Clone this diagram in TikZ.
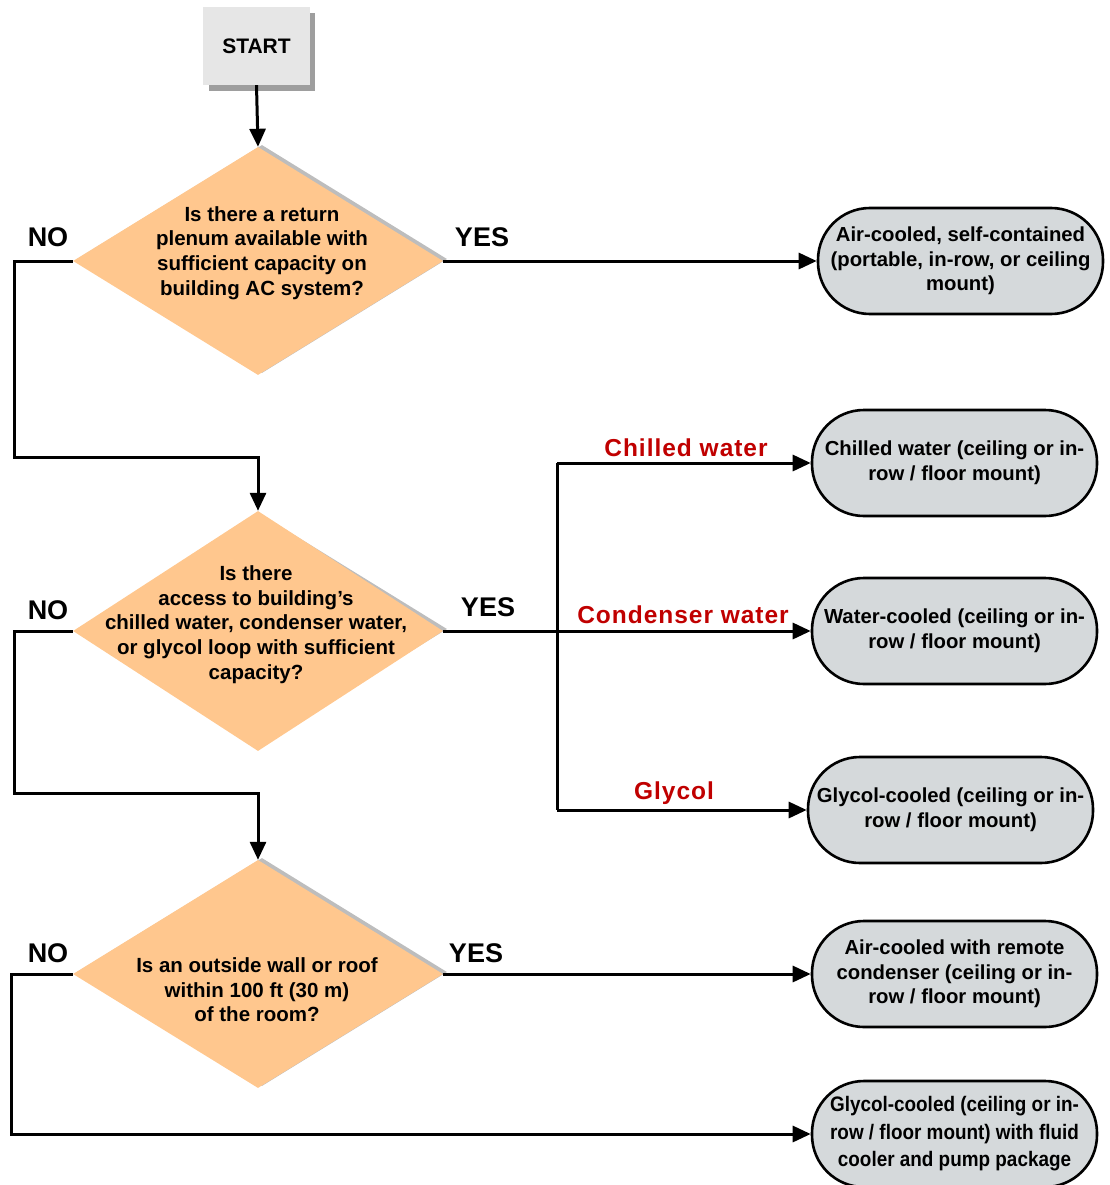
\documentclass[tikz,border=0pt]{standalone}
\usepackage{fontspec}
\setmainfont{Liberation Sans}
\newfontfamily\narrowfont{Liberation Sans}[FakeStretch=0.9]
\newfontfamily\spacedfont{Liberation Sans}[LetterSpace=4]
\usetikzlibrary{arrows.meta,shapes.geometric}
\definecolor{dfill}{HTML}{FFC78E}
\definecolor{dshadow}{HTML}{BDBDBD}
\definecolor{tfill}{HTML}{D5D9DB}
\definecolor{sfill}{HTML}{E6E6E6}
\definecolor{sshadow}{HTML}{9E9E9E}
\definecolor{redlab}{HTML}{C00000}
\tikzset{
  x=1pt,y=-1pt,
  conn/.style={line width=3pt,-{Triangle[length=18pt,width=16pt]}},
  plain/.style={line width=3pt},
  dec/.style={diamond,fill=dfill,minimum width=370pt,minimum height=228pt,inner sep=0pt},
  decsh/.style={diamond,fill=dshadow,minimum width=370pt,minimum height=228pt,inner sep=0pt},
  dtext/.style={font=\fontsize{20.5}{24.6}\selectfont\bfseries,align=center},
  term/.style={draw,line width=2.6pt,fill=tfill,rounded corners=52pt,minimum width=285pt,minimum height=106pt,inner sep=0pt,
    font=\fontsize{20.3}{24.6}\selectfont\bfseries,align=center},
  yn/.style={font=\fontsize{27}{30}\selectfont\bfseries},
  redl/.style={font=\fontsize{24.5}{26}\selectfont\bfseries\spacedfont,text=redlab},
}
\begin{document}
\begin{tikzpicture}
\useasboundingbox (0,0) rectangle (1110,1185);
% START
\fill[sshadow] (209,13) rectangle (315,91);
\node[fill=sfill,minimum width=107pt,minimum height=78pt,inner sep=0pt,font=\fontsize{21}{24}\selectfont\bfseries] (start) at (256.5,46) {START};
% Diamonds
\node[decsh] at (262,259) {};
\node[dec] (d1) at (258,261) {};
\node[dtext] at (262,253) {Is there a return\\plenum available with\\sufficient capacity on\\building AC system?};

\node[decsh] at (262,629) {};
\node[dec,minimum height=240pt] (d2) at (258,631) {};
\node[dtext] at (256,624.5) {Is there\\access to building's\\chilled water, condenser water,\\or glycol loop with sufficient\\capacity?};

\node[decsh] at (262,972) {};
\node[dec] (d3) at (258,974) {};
\node[dtext] at (257,990) {Is an outside wall or roof\\within 100 ft (30 m)\\of the room?};

% Terminals
\node[term] (t1) at (960.5,261) {Air-cooled, self-contained\\(portable, in-row, or ceiling\\mount)};
\node[term] (t2) at (954.5,463) {Chilled water (ceiling or in-\\row / floor mount)};
\node[term] (t3) at (954.5,631) {Water-cooled (ceiling or in-\\row / floor mount)};
\node[term] (t4) at (950.5,810) {Glycol-cooled (ceiling or in-\\row / floor mount)};
\node[term] (t5) at (954.5,974) {Air-cooled with remote\\condenser (ceiling or in-\\row / floor mount)};
\node[term,font=\fontsize{21}{27.5}\selectfont\bfseries\narrowfont] (t6) at (954.5,1134) {Glycol-cooled (ceiling or in-\\row / floor mount) with fluid\\cooler and pump package};

% Coordinates
\coordinate (b1) at (557,463);
\coordinate (b2) at (557,810);

% Connectors
\draw[conn] (start.south) -- (d1.north);
\draw[conn] (d1.east) -- (t1.west);
\draw[conn] (d1.west) -| (14,457) -| (d2.north);
\draw[conn] (d2.east) -- (t3.west);
\draw[plain] (b1) -- (b2);
\draw[conn] (b1) -- (t2.west);
\draw[conn] (b2) -- (t4.west);
\draw[conn] (d2.west) -| (14,793) -| (d3.north);
\draw[conn] (d3.east) -- (t5.west);
\draw[conn] (d3.west) -| (11,1134) -- (t6.west);

% Labels
\node[yn] (no1) at (48,237) {NO};
\node[yn] (yes1) at (482,237) {YES};
\node[yn] (no2) at (48,610) {NO};
\node[yn] (yes2) at (488,607) {YES};
\node[yn] (no3) at (48,953) {NO};
\node[yn] (yes3) at (476,953) {YES};
\node[redl] (l1) at (686,448) {Chilled water};
\node[redl] (l2) at (683,615) {Condenser water};
\node[redl] (l3) at (674,793) {Glycol};
\end{tikzpicture}
\end{document}
